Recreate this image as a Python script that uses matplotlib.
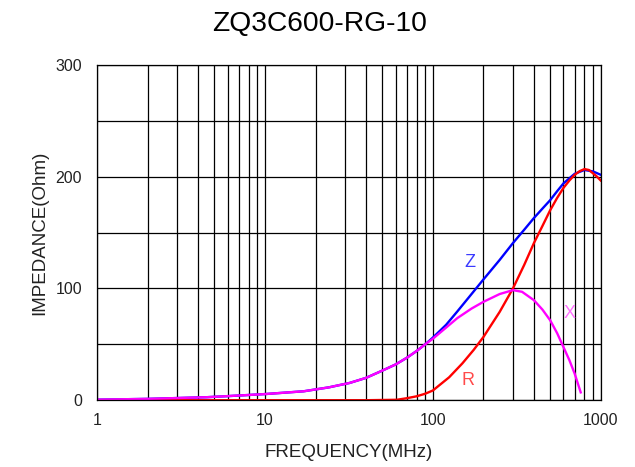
import matplotlib
matplotlib.use('Agg')
import matplotlib.pyplot as plt
from matplotlib.ticker import FixedLocator, NullFormatter

plt.rcParams['font.family'] = ['Liberation Sans', 'DejaVu Sans']

# curves (frequency in MHz, impedance in Ohm)
freq_x = [1, 2, 4.5, 7, 10, 17, 24, 32, 40, 50, 60, 70, 80, 90, 100, 120, 140, 170, 200,
          250, 300, 340, 400, 450, 500, 550, 600, 650, 700, 760]
x_vals = [0.5, 1.2, 2.7, 4.2, 5.5, 8, 11.5, 15.5, 20, 26.5, 32, 38, 44, 50, 55, 65, 73.5, 82, 88,
          95, 98.5, 97, 89.5, 81, 71.5, 60, 47.5, 36, 23.7, 7]

freq_r = [1, 40, 61, 70, 80, 90, 100, 125, 150, 175, 200, 250, 300, 350, 400, 450, 500,
          550, 600, 650, 700, 750, 800, 850, 900, 950, 1000]
r_vals = [0, 0, 0.4, 1.8, 3.5, 5.8, 8.7, 20.5, 33, 45, 56.5, 79, 100, 121, 140.6, 156, 170,
          181, 190, 196.5, 201.7, 205, 206.8, 206, 203, 200, 196.6]

freq_z = [1, 2, 4.5, 7, 10, 17, 24, 32, 40, 50, 60, 70, 80, 90, 100, 120, 140, 170, 200,
          250, 300, 350, 400, 450, 500, 550, 600, 650, 700, 800, 900, 1000]
z_vals = [0.5, 1.2, 2.7, 4.2, 5.5, 8, 11.5, 15.5, 20, 26.5, 32, 38, 44, 50, 56, 67.5, 79.5, 95, 108,
          125.5, 140.6, 152.5, 163, 171.5, 179, 187, 194, 198.5, 202.6, 206, 204.7, 201.7]

fig, ax = plt.subplots(figsize=(6.35, 4.67), dpi=100)
fig.subplots_adjust(left=0.153, right=0.946, top=0.861, bottom=0.143)

ax.plot(freq_z, z_vals, color='#0000ff', lw=1.7)
ax.plot(freq_r, r_vals, color='#ff0000', lw=1.7)
ax.plot(freq_x, x_vals, color='#ff00ff', lw=1.7)

ax.set_xscale('log')
ax.set_xlim(1, 1000)
ax.set_ylim(0, 300)
ax.set_yticks([0, 100, 200, 300])
ax.yaxis.set_minor_locator(FixedLocator([50, 150, 250]))
ax.set_xticks([1, 10, 100, 1000])
ax.set_xticklabels(['1', '10', '100', '1000'])
ax.xaxis.set_minor_formatter(NullFormatter())
ax.grid(True, which='both', color='black', lw=0.9)
ax.tick_params(which='both', length=0, labelsize=11.5, labelcolor='#222222')
ax.tick_params(axis='x', pad=9)
ax.tick_params(axis='y', pad=11)
for s in ax.spines.values():
    s.set_color('black')
    s.set_linewidth(0.9)

ax.text(166, 123, 'Z', color='#3a3aff', fontsize=13, ha='center', va='center')
ax.text(654, 78, 'X', color='#ff70ff', fontsize=13, ha='center', va='center')
ax.text(163, 18, 'R', color='#ff4a4a', fontsize=13, ha='center', va='center')

ax.set_xlabel('FREQUENCY(MHz)', fontsize=13.5, color='#222222', labelpad=12)
ax.set_ylabel('IMPEDANCE(Ohm)', fontsize=13.5, color='#222222', labelpad=5)
fig.suptitle('ZQ3C600-RG-10', fontsize=20.3, x=0.504, y=0.977)

fig.savefig('out.png')
